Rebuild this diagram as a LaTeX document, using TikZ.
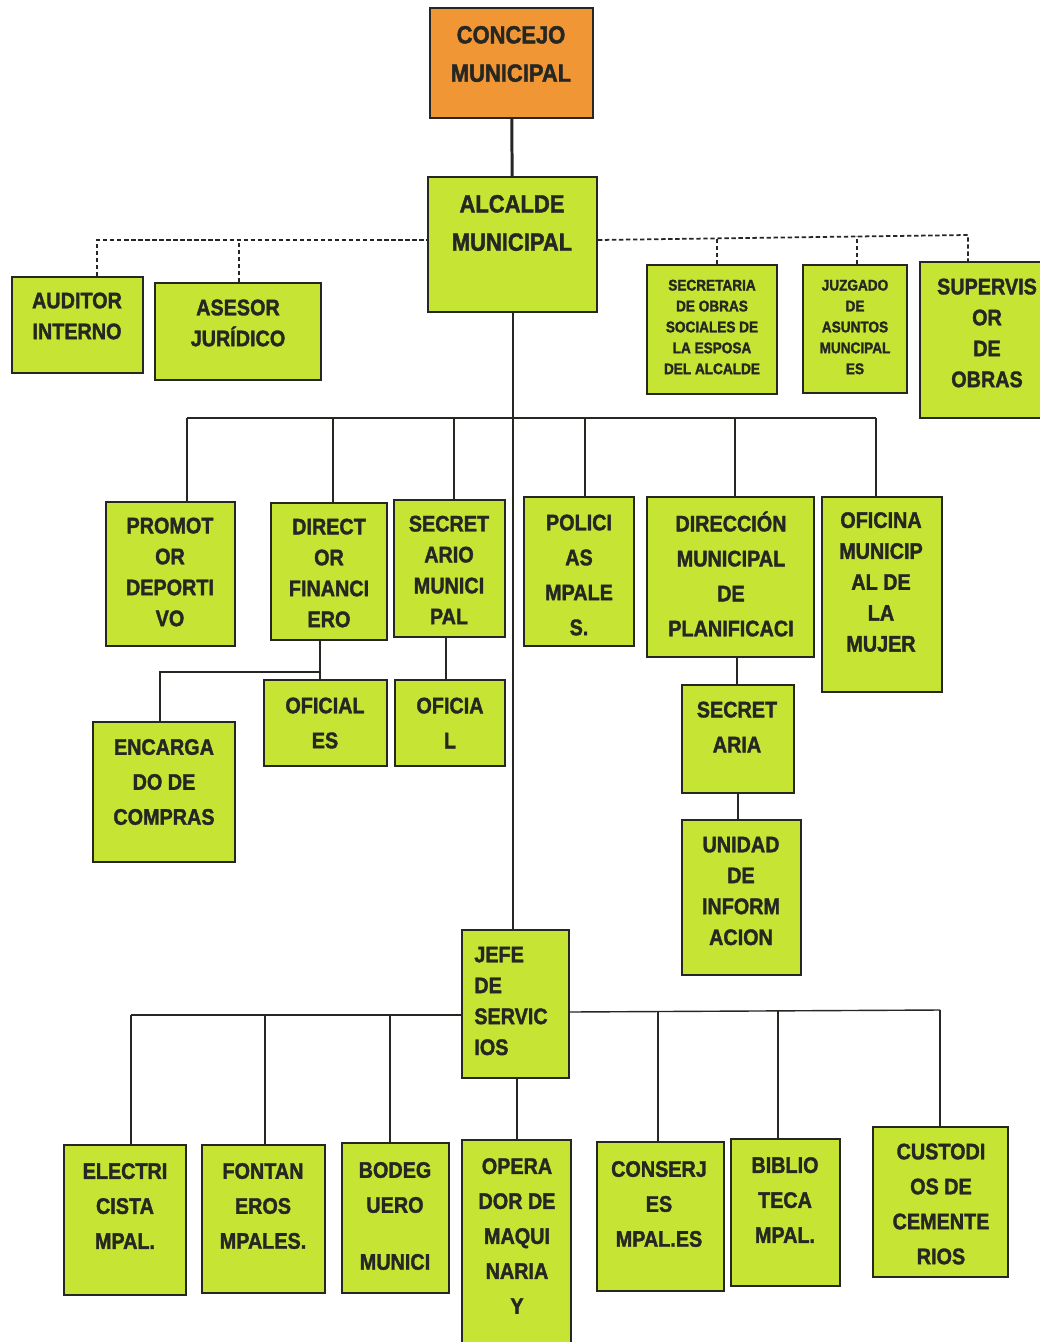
\documentclass[tikz,border=0pt]{standalone}
\usepackage{fontspec}
\newfontfamily\orgfont[FakeStretch=0.88, FakeBold=1.6]{Liberation Sans Bold}
\usetikzlibrary{fit}

\definecolor{cellgreen}{RGB}{198,228,52}
\definecolor{cellorange}{RGB}{240,150,52}
\definecolor{ink}{RGB}{38,38,34}

\tikzset{
  cell/.style={draw=ink, line width=1pt, fill=cellgreen, inner sep=0pt},
  lbl/.style={text=ink, align=center, inner sep=0pt, font=\orgfont\fontsize{12.8}{17.6}\selectfont},
  lblw/.style={lbl, font=\orgfont\fontsize{12.8}{19.9}\selectfont},
  lblbig/.style={lbl, font=\orgfont\fontsize{14.2}{21.8}\selectfont},
  lblsmall/.style={lbl, font=\orgfont\fontsize{8.8}{11.9}\selectfont},
  link/.style={draw=ink, line width=0.8pt},
  trunk/.style={draw=ink, line width=1.7pt},
  dsh/.style={draw=ink, line width=1pt, dash pattern=on 2.5pt off 1.5pt}
}

\begin{document}
\begin{tikzpicture}[x=0.02cm, y=-0.02cm]
      \fill[white] (0,0) rectangle (1039,1342);
      \useasboundingbox (0,0) rectangle (1039,1342);

      % Boxes
      \node[cell, fill=cellorange, fit={(430,8) (593,118)}] (concejo) {};
      \node[cell, fit={(428,177) (597,312)}] (alcalde) {};
      \node[cell, fit={(12,277) (143,373)}] (auditor) {};
      \node[cell, fit={(155,283) (321,380)}] (asesor) {};
      \node[cell, fit={(647,265) (777,394)}] (secobras) {};
      \node[cell, fit={(803,265) (907,393)}] (juzgado) {};
      \node[cell, fit={(920,262) (1045,418)}] (supervisor) {};

      \node[cell, fit={(106,502) (235,646)}] (promotor) {};
      \node[cell, fit={(271,503) (387,640)}] (director) {};
      \node[cell, fit={(394,500) (505,637)}] (secmun) {};
      \node[cell, fit={(524,497) (634,646)}] (policias) {};
      \node[cell, fit={(647,497) (814,657)}] (direccion) {};
      \node[cell, fit={(822,497) (942,692)}] (oficina) {};

      \node[cell, fit={(264,680) (387,766)}] (oficiales) {};
      \node[cell, fit={(395,680) (505,766)}] (oficial) {};
      \node[cell, fit={(93,722) (235,862)}] (encargado) {};
      \node[cell, fit={(682,685) (794,793)}] (secretaria) {};
      \node[cell, fit={(682,820) (801,975)}] (unidad) {};

      \node[cell, fit={(462,930) (569,1078)}] (jefe) {};
      \node[cell, fit={(64,1145) (186,1295)}] (electricista) {};
      \node[cell, fit={(202,1145) (325,1293)}] (fontaneros) {};
      \node[cell, fit={(342,1143) (449,1293)}] (bodeguero) {};
      \node[cell, fit={(462,1140) (571,1352)}] (operador) {};
      \node[cell, fit={(597,1142) (724,1291)}] (conserjes) {};
      \node[cell, fit={(731,1139) (840,1286)}] (biblioteca) {};
      \node[cell, fit={(873,1127) (1008,1277)}] (custodios) {};

      % Texts
      \node[lblbig] (concejo-t) at (511,54) {CONCEJO\\MUNICIPAL};
      \node[lblbig] (alcalde-t) at (512,223) {ALCALDE\\MUNICIPAL};
      \node[lbl] (auditor-t) at (77,316) {AUDITOR\\INTERNO};
      \node[lbl] (asesor-t) at (238,323) {ASESOR\\JURÍDICO};
      \node[lblsmall] (secobras-t) at (712,327) {SECRETARIA\\DE OBRAS\\SOCIALES DE\\LA ESPOSA\\DEL ALCALDE};
      \node[lblsmall] (juzgado-t) at (855,327) {JUZGADO\\DE\\ASUNTOS\\MUNCIPAL\\ES};
      \node[lbl] (supervisor-t) at (987,333) {SUPERVIS\\OR\\DE\\OBRAS};

      \node[lbl] (promotor-t) at (170,572) {PROMOT\\OR\\DEPORTI\\VO};
      \node[lbl] (director-t) at (329,573) {DIRECT\\OR\\FINANCI\\ERO};
      \node[lbl] (secmun-t) at (449,570) {SECRET\\ARIO\\MUNICI\\PAL};
      \node[lblw] (policias-t) at (579,575) {POLICI\\AS\\MPALE\\S.};
      \node[lblw] (direccion-t) at (731,574) {DIRECCIÓN\\MUNICIPAL\\DE\\PLANIFICACI};
      \node[lbl] (oficina-t) at (881,582) {OFICINA\\MUNICIP\\AL DE\\LA\\MUJER};

      \node[lblw] (oficiales-t) at (325,723) {OFICIAL\\ES};
      \node[lblw] (oficial-t) at (450,723) {OFICIA\\L};
      \node[lblw] (encargado-t) at (164,782) {ENCARGA\\DO DE\\COMPRAS};
      \node[lblw] (secretaria-t) at (737,727) {SECRET\\ARIA};
      \node[lbl] (unidad-t) at (741,891) {UNIDAD\\DE\\INFORM\\ACION};

      \node[lbl, align=left, anchor=west] (jefe-t) at (474,1001) {JEFE\\DE\\SERVIC\\IOS};
      \node[lblw] (electricista-t) at (125,1206) {ELECTRI\\CISTA\\MPAL.};
      \node[lblw] (fontaneros-t) at (263,1206) {FONTAN\\EROS\\MPALES.};
      \node[lblw] (bodeguero-t) at (395,1216) {BODEG\\UERO\\[0.44cm]MUNICI};
      \node[lblw] (operador-t) at (517,1236) {OPERA\\DOR DE\\MAQUI\\NARIA\\Y};
      \node[lblw] (conserjes-t) at (659,1204) {CONSERJ\\ES\\MPAL.ES};
      \node[lblw] (biblioteca-t) at (785,1200) {BIBLIO\\TECA\\MPAL.};
      \node[lblw] (custodios-t) at (941,1204) {CUSTODI\\OS DE\\CEMENTE\\RIOS};

      % Main line
      \draw[trunk] (concejo) -- (alcalde);
      \draw[trunk] (alcalde.south -| 513,0) -- (jefe.north -| 513,0);

      % Staff (dashed)
      \draw[dsh] (auditor.north -| 97,0) -- (97,240) -- (alcalde.west |- 0,240);
      \draw[dsh] (asesor.north -| 239,0) -- (239,240);
      \draw[dsh] (alcalde.east |- 0,240) -- (968,235) -- (supervisor.north -| 968,0);
      \draw[dsh] (secobras.north -| 717,0) -- (717,238);
      \draw[dsh] (juzgado.north -| 857,0) -- (857,236);

      % First level
      \draw[link] (187,418) -- (876,418);
      \draw[link] (promotor.north -| 187,0) -- (187,418);
      \draw[link] (director.north -| 333,0) -- (333,418);
      \draw[link] (secmun.north -| 454,0) -- (454,418);
      \draw[link] (policias.north -| 585,0) -- (585,418);
      \draw[link] (direccion.north -| 735,0) -- (735,418);
      \draw[link] (oficina.north -| 876,0) -- (876,418);

      % Second level
      \draw[link] (director.south -| 320,0) -- (oficiales.north -| 320,0);
      \draw[link] (320,672) -| (encargado.north -| 160,0);
      \draw[link] (secmun.south -| 446,0) -- (oficial.north -| 446,0);
      \draw[link] (direccion.south -| 737,0) -- (secretaria.north -| 737,0);
      \draw[link] (secretaria.south -| 738,0) -- (unidad.north -| 738,0);

      % Services
      \draw[link] (131,1015) -- (jefe.west |- 0,1015);
      \draw[link] (jefe.east |- 0,1012) -- (940,1010);
      \draw[link] (electricista.north -| 131,0) -- (131,1015);
      \draw[link] (fontaneros.north -| 265,0) -- (265,1015);
      \draw[link] (bodeguero.north -| 390,0) -- (390,1015);
      \draw[link] (jefe.south -| 517,0) -- (operador.north -| 517,0);
      \draw[link] (conserjes.north -| 658,0) -- (658,1012);
      \draw[link] (biblioteca.north -| 778,0) -- (778,1011);
      \draw[link] (custodios.north -| 940,0) -- (940,1010);
    \end{tikzpicture}
\end{document}
